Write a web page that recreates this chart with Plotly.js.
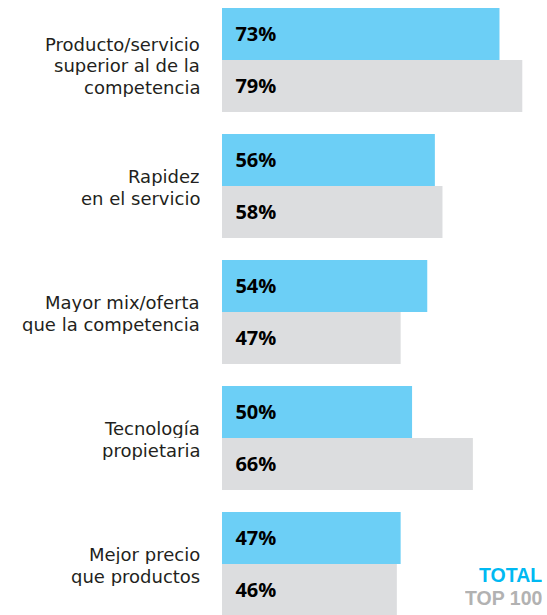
<!DOCTYPE html>
<html>
<head>
<meta charset="utf-8">
<script src="https://cdn.plot.ly/plotly-3.0.1.min.js"></script>
<style>html,body{margin:0;padding:0;background:#fff;}#chart{width:547px;height:615px;}</style>
</head>
<body>
<div id="chart"></div>
<script>
var categories = [
  "Producto/servicio<br>superior al de la<br>competencia",
  "Rapidez<br>en el servicio",
  "Mayor mix/oferta<br>que la competencia",
  "Tecnología<br>propietaria",
  "Mejor precio<br>que productos"
];
var totalValues = [73, 56, 54, 50, 47];
var top100Values = [79, 58, 47, 66, 46];
var seriesNames = ["TOTAL", "TOP 100"];

var pad = "\u00a0\u00a0";
var valueFont = {family: "Open Sans", size: 20, color: "#000", weight: "bold"};
var traces = [
  {
    type: "bar", orientation: "h", name: seriesNames[0],
    y: categories, x: totalValues,
    marker: {color: "#6ccff6"},
    text: totalValues.map(function(v){return pad + v + "%";}),
    textposition: "inside", insidetextanchor: "start",
    textfont: valueFont, hoverinfo: "none"
  },
  {
    type: "bar", orientation: "h", name: seriesNames[1],
    y: categories, x: top100Values,
    marker: {color: "#dcdddf"},
    text: top100Values.map(function(v){return pad + v + "%";}),
    textposition: "inside", insidetextanchor: "start",
    textfont: valueFont, hoverinfo: "none"
  }
];

// category labels: one annotation per line for tighter line spacing
var annotations = [];
var lineGap = 21.5;
categories.forEach(function(cat){
  var lines = cat.split("<br>");
  var n = lines.length;
  var base = (n === 3) ? 6.5 : 1.8;
  lines.forEach(function(line, j){
    var rel = base + (j - (n - 1) / 2) * lineGap; // px below category centre
    annotations.push({
      xref: "paper", yref: "y", x: 0, y: cat, xanchor: "right", yanchor: "middle",
      xshift: -21, yshift: -rel + 1, height: 20, borderpad: 0,
      text: line, showarrow: false,
      font: {family: "DejaVu Sans", size: 18, color: "#231f20", weight: 400}
    });
  });
});

annotations.push(
  {xref: "paper", yref: "paper", x: 1, y: 0.066, xanchor: "right", yanchor: "middle", xshift: -4,
   height: 21, borderpad: 0,
   text: seriesNames[0], showarrow: false, font: {family: "Liberation Sans", size: 19.5, color: "#00b9f2", weight: "bold"}},
  {xref: "paper", yref: "paper", x: 1, y: 0.029, xanchor: "right", yanchor: "middle", xshift: -4,
   height: 21, borderpad: 0,
   text: seriesNames[1], showarrow: false, font: {family: "Liberation Sans", size: 19.5, color: "#b2b2b2", weight: "bold"}}
);

var layout = {
  width: 547, height: 615,
  margin: {l: 222, r: 0, t: 0, b: 0, pad: 0},
  paper_bgcolor: "#fff", plot_bgcolor: "#fff",
  showlegend: false,
  barmode: "group", bargap: 0.175, bargroupgap: 0,
  xaxis: {range: [0, 85.5], showgrid: false, zeroline: false, showticklabels: false, showline: false, fixedrange: true},
  yaxis: {
    type: "category", range: [4.405, -0.476], autorange: false,
    showgrid: false, zeroline: false, showline: false, ticks: "", showticklabels: false
  },
  annotations: annotations
};

Plotly.newPlot("chart", traces, layout, {displayModeBar: false, staticPlot: true});
</script>
</body>
</html>
